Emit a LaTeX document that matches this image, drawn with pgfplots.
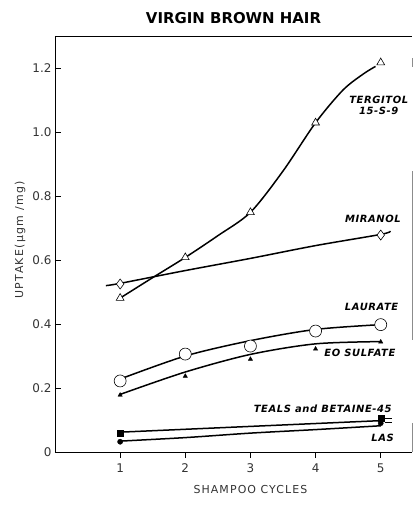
\documentclass[border=0pt]{standalone}
\usepackage{fontspec}
\setmainfont{DejaVu Sans}
\usepackage{pgfplots}
\pgfplotsset{compat=1.18}
\usetikzlibrary{calc}

\pgfplotstableread{
x y
1 0.481
1.5 0.545
2 0.608
2.5 0.676
3 0.749
3.5 0.878
4 1.029
4.42 1.131
4.73 1.181
4.92 1.205
}\tergitolline
\pgfplotstableread{
x y
1 0.481
2 0.608
3 0.749
4 1.029
5 1.217
}\tergitolpts
\pgfplotstableread{
x y
0.78 0.520
1 0.527
2 0.567
3 0.605
4 0.645
5 0.680
5.15 0.690
}\miranolline
\pgfplotstableread{
x y
1 0.525
5 0.678
}\miranolpts
\pgfplotstableread{
x y
1 0.228
2 0.300
3 0.348
4 0.383
5 0.398
}\laurateline
\pgfplotstableread{
x y
1 0.222
2 0.306
3 0.331
4 0.378
5 0.398
}\lauratepts
\pgfplotstableread{
x y
1 0.180
2 0.250
3 0.305
4 0.338
5 0.345
}\eoline
\pgfplotstableread{
x y
1 0.178
2 0.237
3 0.290
4 0.322
5 0.344
}\eopts
\pgfplotstableread{
x y
1 0.062
2 0.071
3 0.080
4 0.089
5 0.098
}\tealsline
\pgfplotstableread{
x y
1 0.060
5 0.106
}\tealspts
\pgfplotstableread{
x y
1 0.034
2 0.045
3 0.059
4 0.070
5 0.082
}\lasline
\pgfplotstableread{
x y
1 0.032
5 0.090
}\laspts

\begin{document}
\begin{tikzpicture}[lab/.style={font=\bfseries\itshape\fontsize{10}{11}\selectfont\addfontfeature{LetterSpace=6}, align=center}]
\begin{axis}[
  scale only axis, width=357bp, height=416bp,
  xmin=0, xmax=5.48, ymin=0, ymax=1.3,
  axis line style={draw=none},
  xtick={1,2,3,4,5},
  ytick={0,0.2,0.4,0.6,0.8,1.0,1.2},
  yticklabels={0,0.2,0.4,0.6,0.8,1.0,1.2},
  xtick pos=bottom, ytick pos=left,
  xtick align=outside, ytick align=inside,
  major tick length=6bp,
  tick style={black, line width=0.8pt},
  ticklabel style={font=\fontsize{12}{12}\selectfont, text=black!80},
  xticklabel style={yshift=-2bp},
  /pgf/number format/assume math mode=true,
  clip=false,
]
\coordinate (SW) at (rel axis cs:0,0);
\coordinate (NE) at (rel axis cs:1,1);
% frame
\draw[line width=1pt] (rel axis cs:0,1) -- (rel axis cs:0,0) -- (rel axis cs:1,0);
\draw[line width=0.9pt] (rel axis cs:0,1) -- (rel axis cs:1,1);
\draw[black!45, line width=0.6pt] (rel axis cs:1,0.947) -- (rel axis cs:1,0.925);
\draw[black!45, line width=0.6pt] (rel axis cs:1,0.675) -- (rel axis cs:1,0.27);
\draw[black!45, line width=0.6pt] (rel axis cs:1,0.07) -- (rel axis cs:1,0);

% Tergitol
\addplot[black, line width=1.5bp, smooth] table {\tergitolline};
\addplot[only marks, mark=triangle*, mark size=4.5bp, mark options={fill=white, draw=black, line width=0.6pt}] table {\tergitolpts};
% Miranol
\addplot[black, line width=1.5bp, smooth] table {\miranolline};
\addplot[only marks, mark=diamond*, mark size=5bp, mark options={fill=white, draw=black, line width=0.6pt}] table {\miranolpts};
% Laurate
\addplot[black, line width=1.5bp, smooth] table {\laurateline};
\addplot[only marks, mark=*, mark size=6bp, mark options={fill=white, draw=black, line width=0.6pt}] table {\lauratepts};
% EO sulfate
\addplot[black, line width=1.5bp, smooth] table {\eoline};
\addplot[only marks, mark=triangle*, mark size=2.5bp, mark options={fill=black}] table {\eopts};
% TEALS and Betaine-45
\addplot[black, line width=1.5bp] table {\tealsline};
\addplot[only marks, mark=square*, mark size=3bp, mark options={fill=black}] table {\tealspts};
% LAS
\addplot[black, line width=1.5bp, smooth] table {\lasline};
\addplot[only marks, mark=*, mark size=2.6bp, mark options={fill=black}] table {\laspts};
% short dashes at right of last markers
\addplot[black, line width=1.2bp] coordinates {(5.06,0.104) (5.17,0.104)};
\addplot[black, line width=1.2bp] coordinates {(5.06,0.091) (5.17,0.091)};

% labels
\node[lab] at (axis cs:4.97,1.083) {TERGITOL\\15-S-9};
\node[lab] at (axis cs:4.88,0.728) {MIRANOL};
\node[lab] at (axis cs:4.86,0.453) {LAURATE};
\node[lab] at (axis cs:4.68,0.309) {EO SULFATE};
\node[lab] at (axis cs:4.11,0.134) {TEALS and BETAINE-45};
\node[lab] at (axis cs:5.03,0.044) {LAS};

% title and axis labels
\node[font=\bfseries\fontsize{15}{15}\selectfont] at ($(rel axis cs:0.5,1)+(0,18bp)$) {VIRGIN BROWN HAIR};
\node[rotate=90, font=\fontsize{11}{11}\selectfont\addfontfeature{LetterSpace=12}, text=black!80] at ($(rel axis cs:0,0.51)+(-35bp,0)$) {UPTAKE(μgm /mg)};
\node[font=\fontsize{11}{11}\selectfont\addfontfeature{LetterSpace=10}, text=black!80] at ($(axis cs:3,0)+(0,-38bp)$) {SHAMPOO CYCLES};
\end{axis}
\pgfresetboundingbox
\path[use as bounding box] ($(SW)+(-55bp,-59bp)$) rectangle ($(NE)+(1bp,36bp)$);
\end{tikzpicture}
\end{document}
